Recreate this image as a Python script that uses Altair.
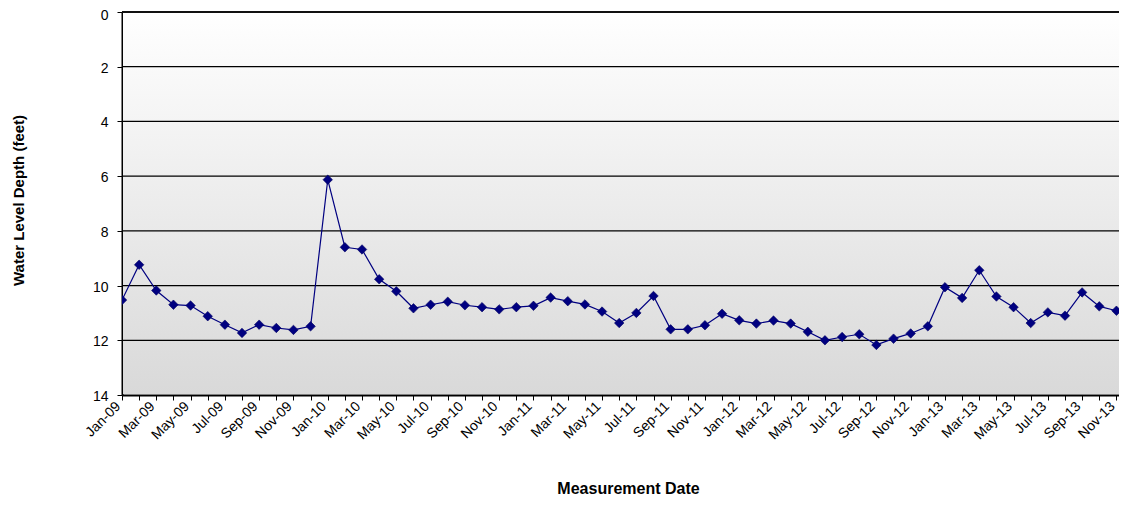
import altair as alt
import pandas as pd

months = [
    "Jan-09", "Feb-09", "Mar-09", "Apr-09", "May-09", "Jun-09", "Jul-09", "Aug-09", "Sep-09", "Oct-09", "Nov-09", "Dec-09",
    "Jan-10", "Feb-10", "Mar-10", "Apr-10", "May-10", "Jun-10", "Jul-10", "Aug-10", "Sep-10", "Oct-10", "Nov-10", "Dec-10",
    "Jan-11", "Feb-11", "Mar-11", "Apr-11", "May-11", "Jun-11", "Jul-11", "Aug-11", "Sep-11", "Oct-11", "Nov-11", "Dec-11",
    "Jan-12", "Feb-12", "Mar-12", "Apr-12", "May-12", "Jun-12", "Jul-12", "Aug-12", "Sep-12", "Oct-12", "Nov-12", "Dec-12",
    "Jan-13", "Feb-13", "Mar-13", "Apr-13", "May-13", "Jun-13", "Jul-13", "Aug-13", "Sep-13", "Oct-13", "Nov-13", "Dec-13",
]

depth = [
    10.53, 9.24, 10.18, 10.70, 10.73, 11.12, 11.43, 11.73, 11.43, 11.55, 11.62, 11.49,
    6.13, 8.60, 8.68, 9.77, 10.21, 10.83, 10.70, 10.59, 10.72, 10.79, 10.87, 10.79,
    10.74, 10.44, 10.57, 10.69, 10.95, 11.37, 11.00, 10.38, 11.60, 11.60, 11.45, 11.03,
    11.27, 11.39, 11.28, 11.39, 11.69, 12.00, 11.88, 11.78, 12.17, 11.94, 11.75, 11.49,
    10.06, 10.45, 9.44, 10.40, 10.79, 11.37, 10.98, 11.10, 10.25, 10.76, 10.92, 10.73,
]

y_ticks = [0, 2, 4, 6, 8, 10, 12, 14]
grid_lines = [2, 4, 6, 8, 10, 12]
top_line = [0]

df = pd.DataFrame({"idx": list(range(len(months))), "month": months, "depth": depth})

W, H = 997, 383
XMAX = 58.15

label_js = "[" + ",".join("'" + m + "'" for m in months) + "]"

xscale = alt.Scale(domain=[0, XMAX], nice=False, zero=False)
yscale = alt.Scale(domain=[0, 14], reverse=True, nice=False, zero=False)

FONT = "Liberation Sans"

xaxis = alt.Axis(
    values=list(range(0, 59)),
    labelExpr="datum.value % 2 == 0 ? " + label_js + "[datum.value] : ''",
    labelAngle=-45, labelAlign="right", labelBaseline="middle",
    labelOverlap=False, labelFlush=False, labelPadding=4, labelOffset=-4,
    labelFontSize=14, labelColor="black", labelFont=FONT,
    tickSize=5, tickColor="black", tickWidth=1,
    domainColor="black", domainWidth=2, grid=False,
    title="Measurement Date", titleX=506, titleY=98,
    titleBaseline="alphabetic", titleAlign="center",
    titleFontSize=16, titleFontWeight="bold", titleColor="black", titleFont=FONT,
)

yaxis = alt.Axis(
    values=y_ticks, labelFontSize=14, labelColor="black", labelFont=FONT,
    labelPadding=9,
    labelOffset={"condition": {"test": "datum.value == 0", "value": 3}, "value": 1.5},
    tickSize=5, tickColor="black", tickWidth=1,
    domainColor="black", domainWidth=2, grid=False,
    title="Water Level Depth (feet)", titleX=-104, titleY=188,
    titleAngle=270, titleAlign="center", titleBaseline="middle",
    titleFontSize=15, titleFontWeight="bold", titleColor="black", titleFont=FONT,
)

bg = alt.Chart(pd.DataFrame({"a": [0]})).mark_rect(
    color=alt.Gradient(
        gradient="linear",
        stops=[alt.GradientStop(color="#ffffff", offset=0),
               alt.GradientStop(color="#d9d9d9", offset=1)],
        x1=0, x2=0, y1=0, y2=1,
    )
).encode(x=alt.value(1), x2=alt.value(W), y=alt.value(0), y2=alt.value(H - 1))

grid = alt.Chart(pd.DataFrame({"g": grid_lines})).mark_rule(color="black", strokeWidth=1.3).encode(
    y=alt.Y("g:Q", scale=yscale, axis=yaxis)
)
top = alt.Chart(pd.DataFrame({"g": top_line})).mark_rule(color="#111111", strokeWidth=2).encode(
    y=alt.Y("g:Q", scale=yscale, axis=yaxis)
)

base = alt.Chart(df).encode(
    x=alt.X("idx:Q", scale=xscale, axis=xaxis),
    y=alt.Y("depth:Q", scale=yscale, axis=yaxis),
)

line = base.mark_line(color="#000080", strokeWidth=1.2, clip=True)
pts = base.mark_point(shape="diamond", filled=True, size=90, color="#000080", opacity=1,
                      stroke="#000060", strokeWidth=0.6, clip=True)

chart = alt.layer(bg, grid, top, line, pts).properties(
    width=W, height=H,
    autosize=alt.AutoSizeParams(type="none"),
    padding={"left": 114, "top": 4, "right": 0, "bottom": 102},
).configure_view(stroke=None).configure(font=FONT, background="white")

chart.save("out.html", embed_options={"renderer": "svg", "actions": False})
